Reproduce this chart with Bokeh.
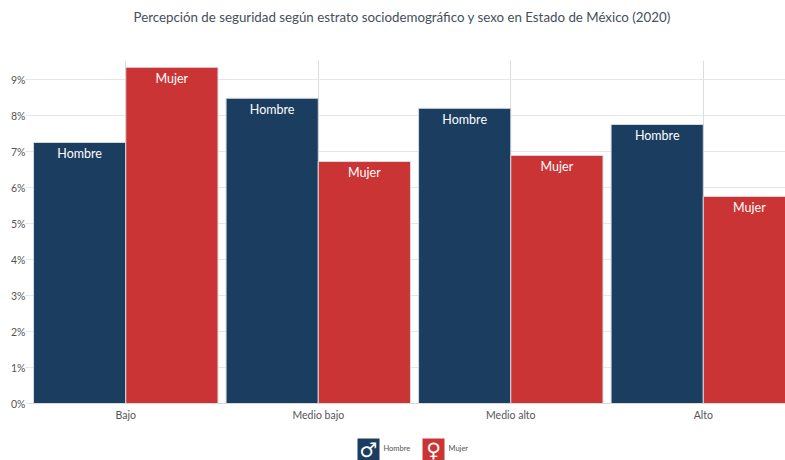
from bokeh.plotting import figure
from bokeh.layouts import column
from bokeh.models import Range1d, ColumnDataSource, FixedTicker
from bokeh.core.properties import value
from bokeh.embed import file_html
from bokeh.resources import INLINE

TITLE = "Percepción de seguridad según estrato sociodemográfico y sexo en Estado de México (2020)"
categories = ["Bajo", "Medio bajo", "Medio alto", "Alto"]
hombre = [7.26, 8.49, 8.21, 7.76]
mujer = [9.35, 6.73, 6.90, 5.76]
yticks = [0, 1, 2, 3, 4, 5, 6, 7, 8, 9]
series = ["Hombre", "Mujer"]
symbols = ["♂", "♀"]
NAVY = "#1b3d5f"
RED = "#cb3434"
FONT = "Lato"
W = 0.479

# title strip: range in page pixels
t = figure(width=785, height=60, output_backend="svg", toolbar_location=None,
           x_range=Range1d(29, 785), y_range=Range1d(0, 60),
           min_border=0, outline_line_color=None)
t.axis.visible = False
t.grid.visible = False
t.text(x=[133], y=[44], text=[TITLE], text_color="#44505c", text_font=value(FONT),
       text_font_size="13.3px", text_align="left", text_baseline="middle")

p = figure(width=785, height=370, output_backend="svg", toolbar_location=None,
           x_range=Range1d(-0.5, 3.427), y_range=Range1d(0, 9.54),
           min_border_left=29, min_border_right=0, min_border_top=0, min_border_bottom=27)
p.outline_line_color = None
p.background_fill_color = "white"

idx = list(range(len(categories)))
for vals, name, col, off in [(hombre, series[0], NAVY, -W / 2), (mujer, series[1], RED, W / 2)]:
    src = ColumnDataSource(dict(x=[i + off for i in idx], top=vals, label=[name] * len(vals)))
    p.vbar(x="x", top="top", width=W, bottom=0, source=src, fill_color=col,
           line_color="#d5dae0", line_width=1)
    p.text(x="x", y="top", text="label", source=src, text_color="white",
           text_font=value(FONT), text_font_size="12.5px", text_align="center",
           text_baseline="middle", y_offset=11)

xa = p.xaxis[0]
xa.ticker = FixedTicker(ticks=idx)
xa.major_label_overrides = {i: c for i, c in zip(idx, categories)}
xa.major_label_text_font = FONT
xa.major_label_text_font_size = "10.5px"
xa.major_label_text_color = "#555555"
xa.axis_line_color = "#d9d9d9"
xa.major_tick_line_color = None
xa.major_tick_out = 0
xa.major_tick_in = 0
xa.minor_tick_line_color = None
xa.major_label_standoff = 5

ya = p.yaxis[0]
ya.ticker = FixedTicker(ticks=yticks)
ya.major_label_overrides = {v: f"{v}%" for v in yticks}
ya.major_label_text_font = FONT
ya.major_label_text_font_size = "10.5px"
ya.major_label_text_color = "#555555"
ya.axis_line_color = None
ya.major_tick_line_color = "#e6e6e6"
ya.major_tick_in = 0
ya.major_tick_out = 4
ya.minor_tick_line_color = None
ya.major_label_standoff = 0

p.xgrid.grid_line_color = "#dcdcdc"
p.ygrid.grid_line_color = "#e6e6e6"
p.xgrid.ticker = FixedTicker(ticks=idx)
p.ygrid.ticker = FixedTicker(ticks=yticks)

# legend strip: range in page pixels, so the keys can sit where the reference has them
q = figure(width=785, height=30, output_backend="svg", toolbar_location=None,
           x_range=Range1d(29, 785), y_range=Range1d(0, 30),
           min_border=0, outline_line_color=None)
q.axis.visible = False
q.grid.visible = False
leg = ColumnDataSource(dict(x=[368.0, 433.0], tx=[383, 448], c=[NAVY, RED], sym=symbols, name=series))
q.rect(x="x", y=11, width=22, height=22, fill_color="c", line_color=None, source=leg)
q.text(x="x", y=11, text="sym", source=leg, text_color="white", text_font=value("DejaVu Sans"),
       text_font_size="20px", text_align="center", text_baseline="middle")
q.text(x="tx", y=12, text="name", source=leg, text_color="#555555", text_font=value(FONT),
       text_font_size="7.5px", text_align="left", text_baseline="middle")

open("out.html", "w").write(file_html(column(t, p, q, spacing=0), INLINE))
